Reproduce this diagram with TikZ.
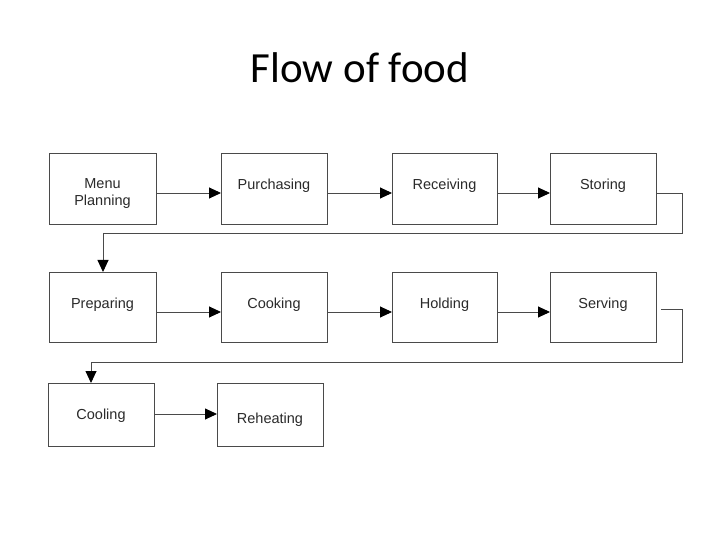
\documentclass[tikz,border=0pt]{standalone}
\usepackage{fontspec}
\setmainfont{Liberation Sans}
\newfontfamily\titlefont{Carlito}
\usetikzlibrary{arrows.meta,calc}
\definecolor{linegray}{HTML}{4A4A4A}
\definecolor{textgray}{HTML}{2A2A2A}
\tikzset{
  box/.style={draw=linegray, line width=0.9bp, rectangle, inner sep=0pt, outer sep=0pt, fill=white},
  txt/.style={font=\fontsize{14.5bp}{17bp}\selectfont, text=textgray, align=center, inner sep=0pt},
  flow/.style={draw=linegray, line width=0.9bp, -{Triangle[length=12bp,width=11bp,color=black]}},
  link/.style={draw=linegray, line width=0.9bp}
}
\begin{document}
\begin{tikzpicture}[x=1bp,y=-1bp]
\useasboundingbox (0,0) rectangle (720,540);
\node[font=\titlefont\fontsize{43bp}{50bp}\selectfont, text=black] (title) at (360,68) {Flow of food};
% row 1
\node[box, minimum width=107bp, minimum height=71bp] (menu) at (102.5,188.5) {};
\node[box, minimum width=106bp, minimum height=71bp] (purch) at (274,188.5) {};
\node[box, minimum width=105bp, minimum height=71bp] (recv) at (444.5,188.5) {};
\node[box, minimum width=106bp, minimum height=71bp] (store) at (603,188.5) {};
% row 2
\node[box, minimum width=107bp, minimum height=70bp] (prep) at (102.5,307) {};
\node[box, minimum width=106bp, minimum height=70bp] (cook) at (274,307) {};
\node[box, minimum width=105bp, minimum height=70bp] (hold) at (444.5,307) {};
\node[box, minimum width=106bp, minimum height=70bp] (serve) at (603,307) {};
% row 3
\node[box, minimum width=106bp, minimum height=63bp] (cool) at (101,414.5) {};
\node[box, minimum width=106bp, minimum height=63bp] (reheat) at (270,414.5) {};
% texts
\node[txt] (tmenu) at (102.5,194) {Menu\\Planning};
\node[txt] (tpurch) at (274,185.5) {Purchasing};
\node[txt] (trecv) at (444.5,185.5) {Receiving};
\node[txt] (tstore) at (603,185.5) {Storing};
\node[txt] (tprep) at (102.5,305) {Preparing};
\node[txt] (tcook) at (274,305) {Cooking};
\node[txt] (thold) at (444.5,305) {Holding};
\node[txt] (tserve) at (603,305) {Serving};
\node[txt] (tcool) at (101,415.5) {Cooling};
\node[txt] (treheat) at (270,419.5) {Reheating};
% connectors
\draw[flow] (menu.east |- 0,193) -- (purch.west |- 0,193);
\draw[flow] (purch.east |- 0,193) -- (recv.west |- 0,193);
\draw[flow] (recv.east |- 0,193) -- (store.west |- 0,193);
\coordinate (s1) at (682,193);
\coordinate (s2) at (682,233);
\coordinate (s3) at (103,233);
\draw[link] (store.east |- s1) -- (s1) -- (s2) -- (s3);
\draw[flow] (s3) -- (s3 |- prep.north);
\draw[flow] (prep.east |- 0,312) -- (cook.west |- 0,312);
\draw[flow] (cook.east |- 0,312) -- (hold.west |- 0,312);
\draw[flow] (hold.east |- 0,312) -- (serve.west |- 0,312);
\coordinate (v0) at (661,309);
\coordinate (v1) at (682,309);
\coordinate (v2) at (682,362);
\coordinate (v3) at (91,362);
\draw[link] (v0) -- (v1) -- (v2) -- (v3);
\draw[flow] (v3) -- (v3 |- cool.north);
\draw[flow] (cool.east |- 0,414) -- (reheat.west |- 0,414);
\end{tikzpicture}
\end{document}
